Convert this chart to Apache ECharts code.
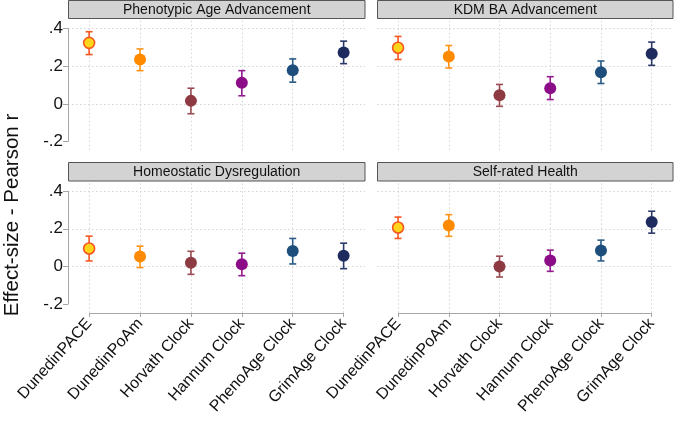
<!DOCTYPE html>
<html>
<head>
<meta charset="utf-8">
<script src="https://cdn.jsdelivr.net/npm/echarts@6/dist/echarts.min.js"></script>
<style>
html,body{margin:0;padding:0;background:#fff;}
#chart{width:674px;height:422px;}
</style>
</head>
<body>
<div id="chart"></div>
<script>
// ---- data ----
const categories = ['DunedinPACE', 'DunedinPoAm', 'Horvath Clock', 'Hannum Clock', 'PhenoAge Clock', 'GrimAge Clock'];
const panelTitles = ['Phenotypic Age Advancement', 'KDM BA Advancement', 'Homeostatic Dysregulation', 'Self-rated Health'];
const yTickValues = [-0.2, 0, 0.2, 0.4];
const yTickLabels = ['-.2', '0', '.2', '.4'];
const yTitle = 'Effect-size - Pearson r';

const phenoEst = [0.323, 0.235, 0.016, 0.112, 0.178, 0.272];
const phenoLo  = [0.261, 0.176, -0.052, 0.043, 0.115, 0.213];
const phenoHi  = [0.382, 0.291, 0.083, 0.176, 0.238, 0.332];

const kdmEst = [0.297, 0.251, 0.046, 0.083, 0.167, 0.265];
const kdmLo  = [0.235, 0.190, -0.013, 0.023, 0.108, 0.204];
const kdmHi  = [0.357, 0.309, 0.103, 0.144, 0.227, 0.327];

const hdEst = [0.096, 0.053, 0.020, 0.012, 0.083, 0.058];
const hdLo  = [0.030, -0.005, -0.041, -0.048, 0.014, -0.011];
const hdHi  = [0.161, 0.108, 0.081, 0.071, 0.149, 0.124];

const srhEst = [0.207, 0.218, 0.000, 0.032, 0.085, 0.236];
const srhLo  = [0.149, 0.160, -0.055, -0.025, 0.030, 0.177];
const srhHi  = [0.262, 0.275, 0.055, 0.087, 0.140, 0.293];

// ---- styles ----
const fillColors = ['#FFD51C', '#FF8A00', '#8E3A43', '#8B0D87', '#1E4F7C', '#1D2B5E'];
const ciColors   = ['#F4561F', '#FF9419', '#9A4A52', '#931C8F', '#2A5A86', '#2B3969'];
const borderWidths = [1.6, 0, 0, 0, 0, 0];
const FONT = '"Liberation Sans", Arial, Helvetica, sans-serif';

const panels = [
  {est: phenoEst, lo: phenoLo, hi: phenoHi},
  {est: kdmEst, lo: kdmLo, hi: kdmHi},
  {est: hdEst, lo: hdLo, hi: hdHi},
  {est: srhEst, lo: srhLo, hi: srhHi}
];

const grids = [
  {left: 68, top: 19.8, width: 297, height: 130.4},
  {left: 377, top: 19.8, width: 296, height: 130.4},
  {left: 68, top: 182.5, width: 297, height: 130.4},
  {left: 377, top: 182.5, width: 296, height: 130.4}
];
const titleBoxes = [
  {x: 68.5, y: 0.5, w: 296.5, h: 18},
  {x: 377.5, y: 0.5, w: 295.5, h: 18},
  {x: 68.5, y: 162.5, w: 296.5, h: 18.5},
  {x: 377.5, y: 162.5, w: 295.5, h: 18.5}
];

const X_MIN = -0.415, X_MAX = 5.42, Y_MIN = -0.245, Y_MAX = 0.445;
const catIdx = categories.map((c, i) => i);
const axisGray = '#a6a6a6';
const gridGray = '#d4d4d4';

const xAxes = [], yAxes = [], series = [];
panels.forEach((p, k) => {
  const isBottom = k >= 2, isLeft = (k % 2 === 0);
  xAxes.push({
    type: 'value', gridIndex: k, min: X_MIN, max: X_MAX,
    splitLine: {show: false},
    axisLine: {show: false, onZero: false},
    axisTick: {show: isBottom, customValues: catIdx, length: 4, lineStyle: {color: axisGray, width: 1}},
    axisLabel: {
      show: isBottom, customValues: catIdx, rotate: 48, margin: 8,
      fontSize: 16, fontFamily: FONT, color: '#111',
      formatter: v => categories[Math.round(v)]
    }
  });
  yAxes.push({
    type: 'value', gridIndex: k, min: Y_MIN, max: Y_MAX,
    splitLine: {show: false},
    axisLine: {show: false, onZero: false},
    axisTick: {show: isLeft, customValues: yTickValues, length: 5, lineStyle: {color: axisGray, width: 1}},
    axisLabel: {
      show: isLeft, customValues: yTickValues, margin: 5,
      fontSize: 17, fontFamily: FONT, color: '#111',
      formatter: v => {
        const i = yTickValues.findIndex(t => Math.abs(t - v) < 1e-9);
        return i >= 0 ? yTickLabels[i] : '';
      }
    }
  });
  // grid lines (dotted)
  series.push({
    type: 'scatter', xAxisIndex: k, yAxisIndex: k, data: [], z: 0, silent: true,
    markLine: {
      silent: true, symbol: ['none', 'none'], animation: false, z: 0,
      label: {show: false},
      lineStyle: {color: gridGray, type: [1.5, 2.5], width: 1},
      data: catIdx.map(i => ({xAxis: i})).concat(yTickValues.filter(v => v > -0.2).map(v => ({yAxis: v})))
    }
  });
  // axis lines (span tick range only)
  series.push({
    type: 'custom', xAxisIndex: k, yAxisIndex: k, data: [[0, 0]], z: 1, silent: true,
    renderItem: (params, api) => {
      const cs = params.coordSys;
      const children = [];
      if (isLeft) {
        const a = api.coord([X_MIN, yTickValues[0]]);
        const b = api.coord([X_MIN, yTickValues[yTickValues.length - 1]]);
        const x = Math.round(cs.x) + 0.5;
        children.push({type: 'line', shape: {x1: x, y1: a[1], x2: x, y2: b[1]}, style: {stroke: axisGray, lineWidth: 1}});
      }
      if (isBottom) {
        const a = api.coord([catIdx[0], Y_MIN]);
        const b = api.coord([catIdx[catIdx.length - 1], Y_MIN]);
        const y = Math.round(cs.y + cs.height) + 0.5;
        children.push({type: 'line', shape: {x1: a[0], y1: y, x2: b[0], y2: y}, style: {stroke: axisGray, lineWidth: 1}});
      }
      return {type: 'group', children: children};
    }
  });
  // confidence intervals
  series.push({
    type: 'custom', xAxisIndex: k, yAxisIndex: k, z: 2,
    data: catIdx.map(i => [i, p.lo[i], p.hi[i]]),
    renderItem: (params, api) => {
      const x = api.value(0);
      const lo = api.coord([x, api.value(1)]);
      const hi = api.coord([x, api.value(2)]);
      const c = ciColors[params.dataIndex];
      const w = 3.5;
      const st = {stroke: c, lineWidth: 1.6};
      return {type: 'group', children: [
        {type: 'line', shape: {x1: lo[0], y1: lo[1], x2: hi[0], y2: hi[1]}, style: st},
        {type: 'line', shape: {x1: lo[0] - w, y1: lo[1], x2: lo[0] + w, y2: lo[1]}, style: st},
        {type: 'line', shape: {x1: hi[0] - w, y1: hi[1], x2: hi[0] + w, y2: hi[1]}, style: st}
      ]};
    }
  });
  // point estimates
  series.push({
    type: 'scatter', xAxisIndex: k, yAxisIndex: k, z: 3, symbol: 'circle', symbolSize: 12,
    data: catIdx.map(i => ({
      value: [i, p.est[i]],
      symbolSize: borderWidths[i] > 0 ? 11 : 12,
      itemStyle: {color: fillColors[i], borderColor: ciColors[i], borderWidth: borderWidths[i], opacity: 1}
    }))
  });
});

const graphics = [];
titleBoxes.forEach((b, k) => {
  graphics.push({
    type: 'rect', silent: true,
    shape: {x: b.x, y: b.y, width: b.w, height: b.h},
    style: {fill: '#d3d3d3', stroke: '#555', lineWidth: 1}
  });
  graphics.push({
    type: 'text', silent: true,
    x: b.x + b.w / 2, y: b.y + b.h / 2 + 0.5,
    style: {text: panelTitles[k], fill: '#111', font: '14px ' + FONT, align: 'center', verticalAlign: 'middle'}
  });
});
graphics.push({
  type: 'text', silent: true, x: 12, y: 215, rotation: Math.PI / 2,
  style: {text: yTitle, fill: '#111', font: '20.5px ' + FONT, align: 'center', verticalAlign: 'middle'}
});

const chart = echarts.init(document.getElementById('chart'), null, {renderer: 'canvas'});
chart.setOption({
  animation: false,
  backgroundColor: '#fff',
  grid: grids,
  xAxis: xAxes,
  yAxis: yAxes,
  series: series,
  graphic: graphics
});
</script>
</body>
</html>
